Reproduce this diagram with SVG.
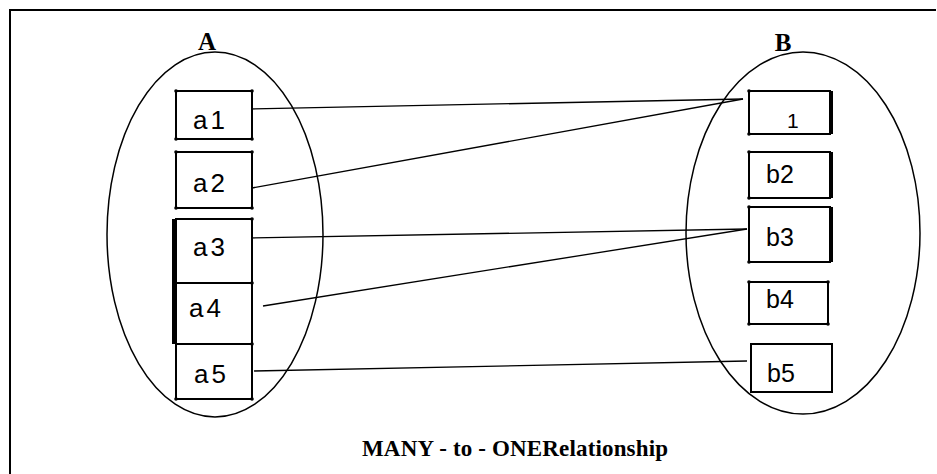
<svg xmlns="http://www.w3.org/2000/svg" width="937" height="474" viewBox="0 0 937 474">
<style>
.frame{stroke:#000;stroke-width:2;fill:none}
.set{fill:none;stroke:#000;stroke-width:1.5}
.box{fill:#fff;stroke:#000;stroke-width:2}
.bar{fill:#000}
.dot{fill:#000}
.lbl{font-family:"Liberation Sans",Arial,sans-serif;font-size:26px;fill:#000}
.lblb{font-family:"Liberation Sans",Arial,sans-serif;font-size:25px;fill:#000}
.hdr{font-family:"Liberation Serif","Times New Roman",serif;font-weight:bold;font-size:25px;fill:#000}
.ttl{font-family:"Liberation Serif","Times New Roman",serif;font-weight:bold;font-size:23px;fill:#000}
.conn line{stroke:#000;stroke-width:1.3}
</style>
<rect width="937" height="474" fill="#fff"/>
<g id="frame">
<line class="frame" x1="9" y1="10" x2="936" y2="10"/>
<line class="frame" x1="10" y1="9" x2="10" y2="474"/>
</g>
<g id="setA">
<ellipse class="set" cx="215" cy="234.5" rx="108" ry="182.5"/>
<text class="hdr" x="207" y="50" text-anchor="middle">A</text>
</g>
<g id="setB">
<ellipse class="set" cx="803" cy="233" rx="117" ry="181"/>
<text class="hdr" x="783" y="51" text-anchor="middle">B</text>
</g>
<g class="conn" id="connectors">
<line x1="248" y1="109" x2="743" y2="99"/>
<line x1="252" y1="188" x2="743" y2="99"/>
<line x1="248" y1="238" x2="747" y2="229"/>
<line x1="263" y1="306" x2="747" y2="229"/>
<line x1="254" y1="371" x2="747" y2="361"/>
</g>
<g id="a1">
<rect class="box" x="176" y="91" width="76" height="48"/>
<text class="lbl" x="193" y="129" letter-spacing="3">a1</text>
</g>
<g id="a2">
<rect class="box" x="176" y="152" width="76" height="56"/>
<text class="lbl" x="193" y="192" letter-spacing="3">a2</text>
</g>
<g id="a3">
<rect class="box" x="176" y="219" width="76" height="64"/>
<text class="lbl" x="193" y="256" letter-spacing="3">a3</text>
</g>
<g id="a4">
<rect class="box" x="176" y="283" width="76" height="61"/>
<text class="lbl" x="189" y="317" letter-spacing="3">a4</text>
</g>
<g id="a5">
<rect class="box" x="176" y="344" width="76" height="55"/>
<text class="lbl" x="194" y="383" letter-spacing="3">a5</text>
</g>
<rect class="bar" x="172" y="219" width="4" height="125"/>
<g id="b1">
<rect class="box" x="749" y="91" width="81" height="43"/>
<rect class="bar" x="829" y="91" width="4" height="43"/>
<text class="lblb" x="787" y="128" style="font-size:21px">1</text>
</g>
<g id="b2">
<rect class="box" x="749" y="152" width="81" height="46"/>
<rect class="bar" x="829" y="152" width="4" height="46"/>
<text class="lblb" x="766" y="183">b2</text>
</g>
<g id="b3">
<rect class="box" x="749" y="207" width="81" height="55"/>
<rect class="bar" x="829" y="207" width="4" height="55"/>
<text class="lblb" x="766" y="246">b3</text>
</g>
<g id="b4">
<rect class="box" x="749" y="282" width="79" height="42"/>
<text class="lblb" x="766" y="308">b4</text>
</g>
<g id="b5">
<rect class="box" x="751" y="344" width="81" height="48"/>
<text class="lblb" x="767" y="382">b5</text>
</g>
<g id="corners" class="dot">
<circle cx="176" cy="91" r="1.8"/><circle cx="252" cy="91" r="1.8"/><circle cx="176" cy="139" r="1.8"/><circle cx="252" cy="139" r="1.8"/>
<circle cx="176" cy="152" r="1.8"/><circle cx="252" cy="152" r="1.8"/><circle cx="176" cy="208" r="1.8"/><circle cx="252" cy="208" r="1.8"/>
<circle cx="252" cy="219" r="1.8"/><circle cx="252" cy="283" r="1.8"/><circle cx="252" cy="344" r="1.8"/><circle cx="176" cy="399" r="1.8"/><circle cx="252" cy="399" r="1.8"/>
<circle cx="749" cy="91" r="1.8"/><circle cx="749" cy="134" r="1.8"/><circle cx="749" cy="152" r="1.8"/><circle cx="749" cy="198" r="1.8"/>
<circle cx="749" cy="207" r="1.8"/><circle cx="749" cy="262" r="1.8"/>
<circle cx="749" cy="282" r="1.8"/><circle cx="828" cy="282" r="1.8"/><circle cx="749" cy="324" r="1.8"/><circle cx="828" cy="324" r="1.8"/>
</g>
<g id="title">
<text class="ttl" x="362" y="456" textLength="306" lengthAdjust="spacing">MANY - to - ONERelationship</text>
</g>
</svg>
